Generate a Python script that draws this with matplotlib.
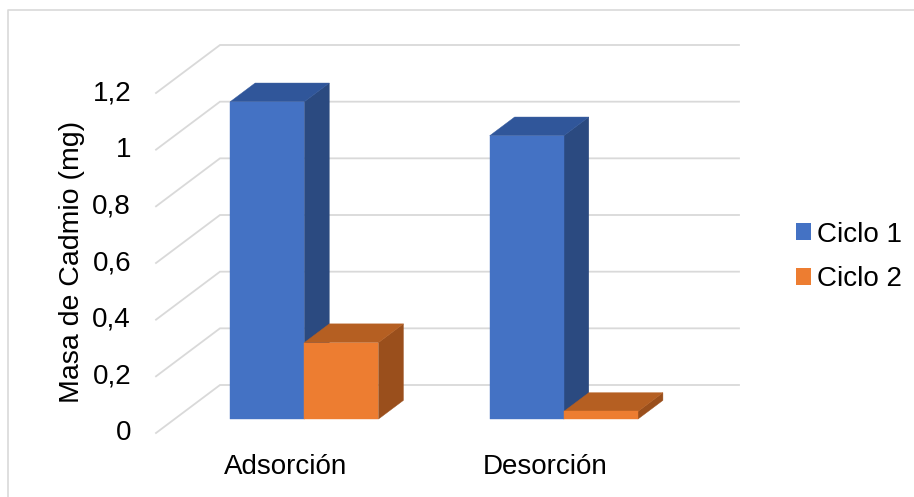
import matplotlib
matplotlib.use("Agg")
import matplotlib.pyplot as plt
from matplotlib.patches import Polygon, Patch
from matplotlib.lines import Line2D

plt.rcParams['font.family'] = ['Liberation Sans', 'DejaVu Sans']

# ---- data ----
categories = ["Adsorción", "Desorción"]
series_names = ["Ciclo 1", "Ciclo 2"]
ciclo1 = [1.12, 1.00]
ciclo2 = [0.27, 0.027]
y_ticks = [0, 0.2, 0.4, 0.6, 0.8, 1.0, 1.2]
y_tick_labels = ["0", "0,2", "0,4", "0,6", "0,8", "1", "1,2"]
y_title = "Masa de Cadmio (mg)"

# face colours per series: front, top, side
face_colors = {
    "Ciclo 1": ("#4472C4", "#30569A", "#2B4A80"),
    "Ciclo 2": ("#ED7D31", "#B55F22", "#9A4F1C"),
}

FS = 20

W, H = 914, 497
fig = plt.figure(figsize=(W / 100, H / 100), dpi=100)
ax = fig.add_axes([0, 0, 1, 1])

# data units: category index on x, value on y (front edge of the floor)
PX_PER_CAT = 259.5
PX_PER_VAL = 283.33
X0_PX, Y0_PX = 156.0, 433.0          # pixel of (category -0.5, value 0)
ax.set_xlim(-0.5 - X0_PX / PX_PER_CAT, -0.5 + (W - X0_PX) / PX_PER_CAT)
ax.set_ylim((Y0_PX - H) / PX_PER_VAL, Y0_PX / PX_PER_VAL)
ax.axis("off")

# oblique depth vector (full wall depth) in data units
DX = 64.0 / PX_PER_CAT
DY = 48.0 / PX_PER_VAL


def proj(x, v, d):
    return (x + d * DX, v + d * DY)


grid_color = "#D9D9D9"
x_left, x_right = -0.5, len(categories) - 0.5
for t in y_ticks:
    a = proj(x_left, t, 0)
    b = proj(x_left, t, 1)
    c = proj(x_right, t, 1)
    ax.plot([a[0], b[0], c[0]], [a[1], b[1], c[1]], color=grid_color,
            lw=1.3, solid_joinstyle="miter", zorder=1)

for t, lab in zip(y_ticks, y_tick_labels):
    px, py = proj(x_left, t, 0)
    ax.text(px - 25 / PX_PER_CAT, py, lab, ha="right", va="center",
            fontsize=FS, color="#000000")

# bars
bar_w = 1 / 3.5
d0, d1 = 0.29, 0.68


def draw_bar(xl, xr, v, colors):
    front, top, side = colors
    f = [proj(xl, 0, d0), proj(xr, 0, d0), proj(xr, v, d0), proj(xl, v, d0)]
    tp = [proj(xl, v, d0), proj(xr, v, d0), proj(xr, v, d1), proj(xl, v, d1)]
    sd = [proj(xr, 0, d0), proj(xr, 0, d1), proj(xr, v, d1), proj(xr, v, d0)]
    for pts, col in ((sd, side), (tp, top), (f, front)):
        ax.add_patch(Polygon(pts, closed=True, facecolor=col, edgecolor=col,
                             lw=0.3, zorder=3))


for i in range(len(categories)):
    for j, (name, vals) in enumerate(zip(series_names, [ciclo1, ciclo2])):
        xl = i - bar_w + j * bar_w
        draw_bar(xl, xl + bar_w, vals[i], face_colors[name])

for i, cat in enumerate(categories):
    ax.text(i, (Y0_PX - 467) / PX_PER_VAL, cat, ha="center", va="center",
            fontsize=FS, color="#000000")

ax.text(-0.5 + (72 - X0_PX) / PX_PER_CAT, (Y0_PX - 262) / PX_PER_VAL, y_title,
        rotation=90, ha="center", va="center", fontsize=20.5, color="#000000")

handles = [Patch(facecolor=face_colors[n][0], edgecolor="none") for n in series_names]
ax.legend(handles, series_names, loc="center left",
          bbox_to_anchor=(796 / W, 1 - 257 / H), bbox_transform=fig.transFigure,
          frameon=False, fontsize=FS, handlelength=0.54, handleheight=0.54,
          handletextpad=0.22, labelspacing=0.68, borderaxespad=0, borderpad=0)

# chart border
fig.add_artist(Line2D([8 / W, 8 / W, 1], [0, 1 - 10 / H, 1 - 10 / H],
                      transform=fig.transFigure, color="#D9D9D9", lw=1.2))

fig.savefig("out.png", dpi=100)
